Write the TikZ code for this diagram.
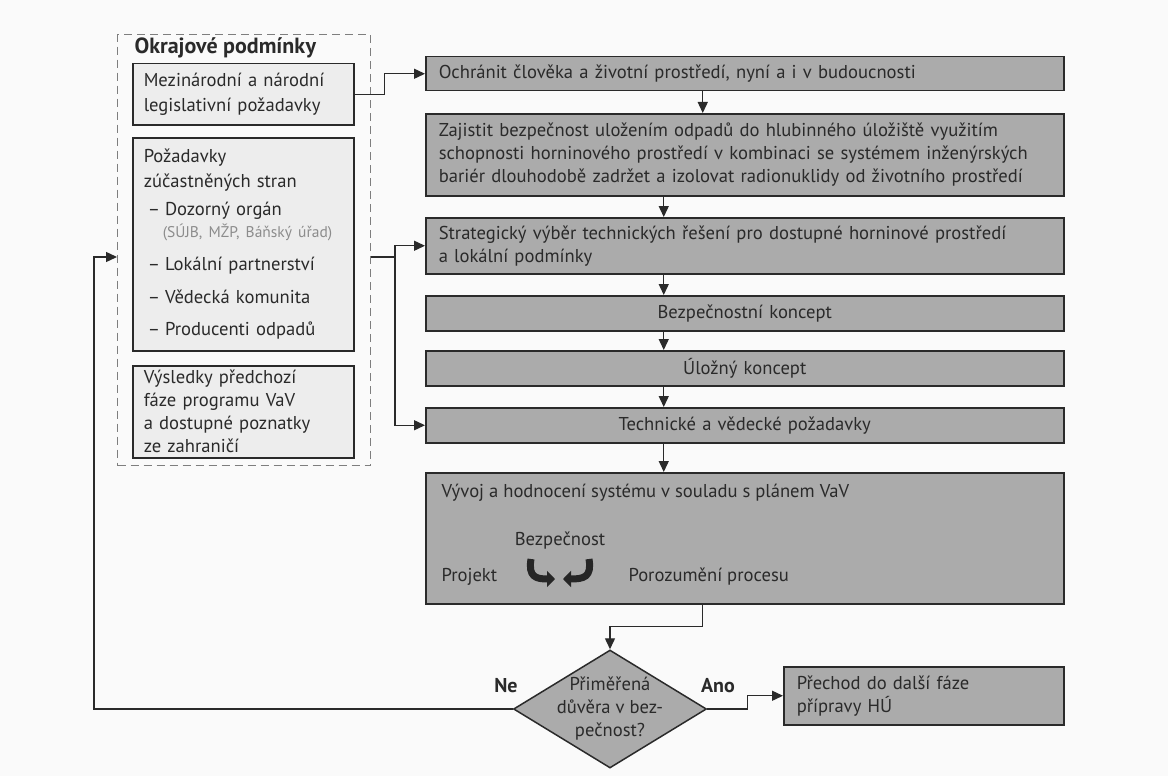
\documentclass[tikz,border=0pt]{standalone}
\usepackage{fontspec}
\setmainfont{PT Sans}
\usetikzlibrary{arrows.meta,shapes.geometric}

\definecolor{ink}{HTML}{2A2A2A}
\definecolor{boxgray}{HTML}{ABABAB}
\definecolor{panelgray}{HTML}{EDEDED}
\definecolor{framegray}{HTML}{7E7E7E}
\definecolor{notegray}{HTML}{8C8C8C}

\newcommand{\itm}{\hspace*{4pt}--\hspace{5pt}}

\begin{document}
\begin{tikzpicture}[x=1pt,y=-1pt,
  font=\fontsize{18.6}{23}\selectfont, text=ink,
  panel/.style={draw=ink,line width=1.5pt,fill=panelgray,anchor=north west,
    text width=199pt,inner xsep=11pt,inner ysep=0pt,align=left},
  block/.style={draw=ink,line width=1.5pt,fill=boxgray,anchor=north west,
    text width=612pt,inner xsep=13pt,inner ysep=0pt,align=left},
  flow/.style={draw=ink,line width=1.4pt,-{Triangle[length=11pt,width=10pt]}},
  swirl/.style={draw=black!85,line width=7pt,-{Triangle[length=8pt,width=16pt]}},
  tag/.style={font=\bfseries\fontsize{20}{22}\selectfont}]

\fill[black!2] (0,0) rectangle (1168,776);
\useasboundingbox (0,0) rectangle (1168,776);

% boundary conditions
\node[draw=framegray,line width=1.3pt,dash pattern=on 8pt off 5pt,anchor=north west,
  minimum width=253pt,minimum height=431pt,inner sep=0pt] (bounds) at (117,34) {};
\node[anchor=base west,font=\bfseries\fontsize{22}{24}\selectfont] (boundstitle) at (131,54) {Okrajové podmínky};

\node[panel,minimum height=61pt] (legal) at (132,63) {Mezinárodní a národní\\[2pt]legislativní požadavky};
\node[panel,minimum height=213pt] (parties) at (132,137) {Požadavky\\[2pt]zúčastněných stran\\[5pt]
  \itm Dozorný orgán\\[-1pt]
  \hspace*{19pt}{\color{notegray}\fontsize{15.5}{18}\selectfont(SÚJB, MŽP, Báňský úřad)}\\[10pt]
  \itm Lokální partnerství\\[10pt]
  \itm Vědecká komunita\\[9pt]
  \itm Producenti odpadů};
\node[panel,minimum height=92pt] (results) at (132,365) {Výsledky předchozí\\fáze programu VaV\\a dostupné poznatky\\ze zahraničí};

% main chain
\node[block,minimum height=34pt] (goal) at (425,56) {Ochránit člověka a životní prostředí, nyní a i v budoucnosti};
\node[block,minimum height=82pt] (safety) at (425,113) {\mbox{Zajistit bezpečnost uložením odpadů do hlubinného úložiště využitím}\\\mbox{schopnosti horninového prostředí v kombinaci se systémem inženýrských}\\\mbox{bariér dlouhodobě zadržet a izolovat radionuklidy od životního prostředí}};
\node[block,minimum height=56pt] (strategy) at (425,217) {\mbox{Strategický výběr technických řešení pro dostupné horninové prostředí}\\a lokální podmínky};
\node[block,minimum height=35pt,align=center] (safetycon) at (425,295) {Bezpečnostní koncept};
\node[block,minimum height=35pt,align=center] (storagecon) at (425,350) {Úložný koncept};
\node[block,minimum height=35pt,align=center] (techreq) at (425,407) {Technické a vědecké požadavky};
\node[block,minimum height=131pt] (develop) at (425,472) {};

\node[anchor=west] (devtitle) at (438,493) {Vývoj a hodnocení systému v souladu s plánem VaV};
\node (aspect) at (560,541) {Bezpečnost};
\node[anchor=west] (design) at (438,577) {Projekt};
\node[anchor=west] (process) at (625,577) {Porozumění procesu};
\draw[swirl] (531,559) .. controls (528,577) and (536,579) .. (555,579);
\draw[swirl] (589,559) .. controls (592,577) and (584,579) .. (563,579);

\node[draw=ink,line width=1.5pt,fill=boxgray,diamond,minimum width=193pt,
  minimum height=118pt,inner sep=0pt] (decide) at (610,709) {};
\node[align=center] (decidetext) at (decide) {Přiměřená\\důvěra v bez-\\pečnost?};
\node[tag] (no) at (506,686) {Ne};
\node[tag] (yes) at (718,686) {Ano};

\node[block,text width=254pt,minimum height=58pt] (nextphase) at (783,666) {Přechod do další fáze\\přípravy HÚ};

% connectors
\draw[flow] (legal.east) -- ++(30,0) |- (goal.west);
\draw[flow] ([xshift=-42pt]goal.south) -- ([xshift=-42pt]safety.north);
\foreach \a/\b in {safety/strategy,strategy/safetycon,safetycon/storagecon,storagecon/techreq,techreq/develop}{
  \draw[flow] ([xshift=-81pt]\a.south) -- ([xshift=-81pt]\b.north);
}
\draw[flow] ([xshift=-42pt]develop.south) -- ++(0,22) -| (decide.north);

\coordinate (split) at (395,257);
\draw[draw=ink,line width=1.4pt] (bounds.east |- split) -- (split);
\draw[flow] (split) |- (strategy.west);
\draw[flow] (split) |- (techreq.west);

\coordinate (loop) at (94,257);
\draw[flow] (decide.west) -| (loop) -- (loop -| bounds.west);
\draw[flow] (decide.east) -- ++(40,0) |- (nextphase.west);

\end{tikzpicture}
\end{document}
